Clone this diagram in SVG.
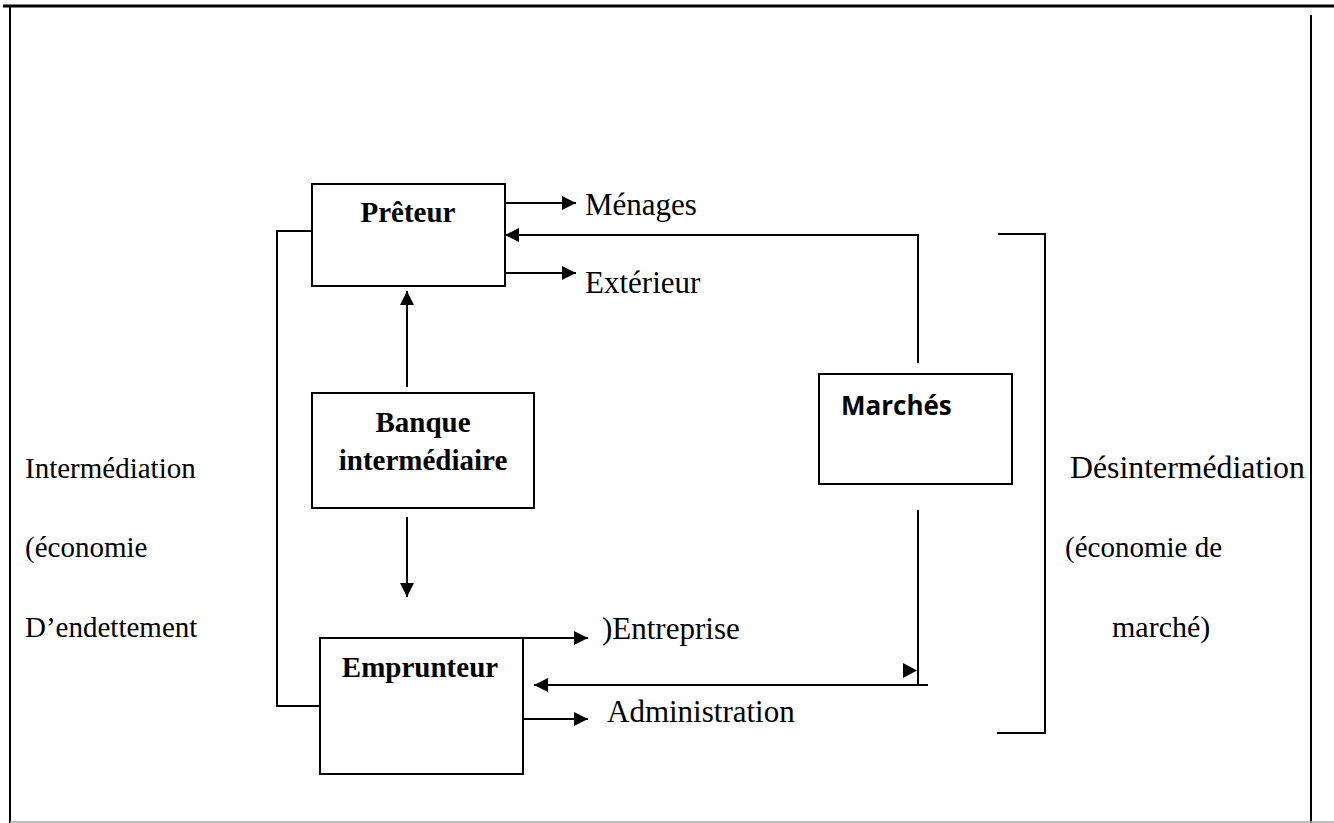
<svg xmlns="http://www.w3.org/2000/svg" width="1334" height="823" viewBox="0 0 1334 823">
<style>
.box{fill:#fff;stroke:#000;stroke-width:2}
.ln{fill:none;stroke:#000;stroke-width:2}
.t{font-family:"Liberation Serif","Times New Roman",serif;font-size:29px;fill:#000}
.tl{font-family:"Liberation Serif","Times New Roman",serif;font-size:31px;fill:#000}
.b{font-family:"Liberation Serif","Times New Roman",serif;font-size:29px;font-weight:bold;fill:#000}
.s{font-family:"Open Sans","Liberation Sans",sans-serif;font-size:26px;font-weight:bold;fill:#000}
</style>
<defs>
<marker id="ah" markerUnits="userSpaceOnUse" markerWidth="16" markerHeight="16" refX="14" refY="7" orient="auto">
<path d="M0,0 L14,7 L0,14 z" fill="#000"/>
</marker>
</defs>
<rect width="1334" height="823" fill="#fff"/>
<g id="frame">
<line x1="3" y1="6" x2="1334" y2="6" stroke="#000" stroke-width="3"/>
<line x1="10" y1="7" x2="10" y2="823" stroke="#000" stroke-width="2"/>
<line x1="1311" y1="15" x2="1311" y2="823" stroke="#000" stroke-width="2"/>
<line x1="10" y1="822" x2="1334" y2="822" stroke="#aaa" stroke-width="1.5"/>
</g>
<g id="connectors">
<line class="ln" x1="505" y1="203" x2="576" y2="203" marker-end="url(#ah)"/>
<line class="ln" x1="505" y1="273" x2="576" y2="273" marker-end="url(#ah)"/>
<polyline class="ln" points="918,363 918,235 505,235" marker-end="url(#ah)"/>
<polyline class="ln" points="312,231 277,231 277,706 320,706"/>
<line class="ln" x1="407" y1="387" x2="407" y2="291" marker-end="url(#ah)"/>
<line class="ln" x1="407" y1="517" x2="407" y2="597" marker-end="url(#ah)"/>
<line class="ln" x1="523" y1="638" x2="588" y2="638" marker-end="url(#ah)"/>
<line class="ln" x1="523" y1="719" x2="588" y2="719" marker-end="url(#ah)"/>
<line class="ln" x1="918" y1="510" x2="918" y2="685"/>
<line class="ln" x1="928" y1="685" x2="534" y2="685" marker-end="url(#ah)"/>
<polygon points="903,663 917,670.5 903,678" fill="#000"/>
<polyline class="ln" points="998,234 1045,234 1045,733 997,733"/>
</g>
<g id="preteur">
<rect class="box" x="312" y="184" width="193" height="102"/>
<text class="b" x="408" y="222" text-anchor="middle">Prêteur</text>
</g>
<g id="banque">
<rect class="box" x="312" y="393" width="222" height="115"/>
<text class="b" x="423" y="432" text-anchor="middle">Banque</text>
<text class="b" x="423" y="470" text-anchor="middle">intermédiaire</text>
</g>
<g id="emprunteur">
<rect class="box" x="320" y="638" width="203" height="136"/>
<text class="b" x="420" y="677" text-anchor="middle">Emprunteur</text>
</g>
<g id="marches">
<rect class="box" x="819" y="374" width="193" height="110"/>
<text class="s" x="841" y="415">Marchés</text>
</g>
<g id="labels">
<text class="tl" x="585" y="215">Ménages</text>
<text class="tl" x="585" y="293">Extérieur</text>
<text class="tl" x="602" y="639">)Entreprise</text>
<text class="tl" x="607" y="722">Administration</text>
<text class="t" x="25" y="478">Intermédiation</text>
<text class="t" x="25" y="557">(économie</text>
<text class="t" x="25" y="637">D’endettement</text>
<text class="t" x="1070" y="478" style="font-size:31.8px">Désintermédiation</text>
<text class="t" x="1065" y="557">(économie de</text>
<text class="t" x="1112" y="637" style="font-size:30px">marché)</text>
</g>
</svg>
